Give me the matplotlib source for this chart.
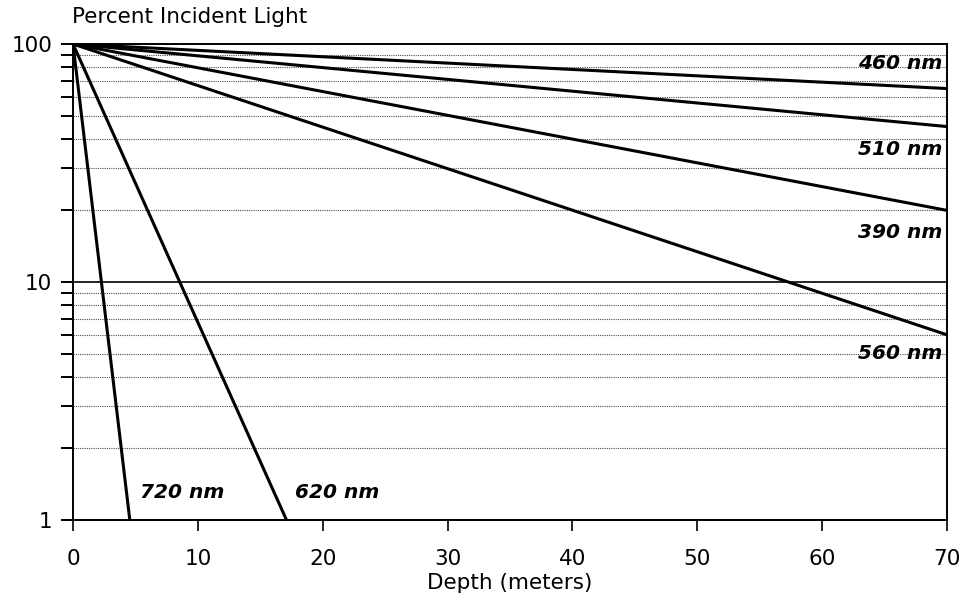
import numpy as np
import matplotlib.pyplot as plt
from matplotlib.ticker import FixedLocator, NullFormatter

# Light attenuation with depth
wavelengths = ["460 nm", "510 nm", "390 nm", "560 nm", "620 nm", "720 nm"]
end_depth = [70, 70, 70, 70, 17.1, 4.55]       # meters
end_percent = [65, 45, 20, 6.0, 1, 1]          # percent incident light
start_depth = 0
start_percent = 100

# label placement (depth, percent, horizontal alignment)
label_pos = [(69.6, 83, "right"), (69.6, 36, "right"), (69.6, 16.1, "right"),
             (69.6, 5.0, "right"), (17.8, 1.31, "left"), (5.4, 1.31, "left")]

xticks = [0, 10, 20, 30, 40, 50, 60, 70]
yticks = [1, 10, 100]

plt.rcParams['font.family'] = ['DejaVu Sans']

fig = plt.figure(figsize=(9.67, 6.03), dpi=100)
ax = fig.add_axes([0.0755, 0.1376, 0.9038, 0.7894])

ax.set_yscale("log")
ax.set_xlim(0, 70)
ax.set_ylim(1, 100)

# grid: dotted at minor decades, solid at 10
minors = [m * d for d in (1, 10) for m in range(2, 10)]
for v in minors:
    ax.axhline(v, color="0.3", lw=0.8, ls=(0, (1, 1)), zorder=1)
ax.axhline(10, color="black", lw=1.2, zorder=1)

for name, xe, ye in zip(wavelengths, end_depth, end_percent):
    ax.plot([start_depth, xe], [start_percent, ye], color="black", lw=2.2,
            solid_capstyle="butt", zorder=3)

for name, (lx, ly, ha) in zip(wavelengths, label_pos):
    ax.text(lx, ly, name, ha=ha, va="center", fontsize=14.5,
            fontweight="bold", fontstyle="italic", zorder=4)

for s in ax.spines.values():
    s.set_linewidth(1.4)

ax.set_xticks(xticks)
ax.set_xticklabels([str(t) for t in xticks], fontsize=15.5)
ax.yaxis.set_major_locator(FixedLocator(yticks))
ax.set_yticklabels([str(t) for t in yticks], fontsize=15.5)
ax.yaxis.set_minor_locator(FixedLocator(minors))
ax.yaxis.set_minor_formatter(NullFormatter())
ax.tick_params(axis="x", direction="out", length=8, width=1.2, pad=13)
ax.tick_params(axis="y", which="both", direction="out", length=9, width=1.4, pad=6)

ax.set_xlabel("Depth (meters)", fontsize=15.5, labelpad=3)
fig.text(0.074, 0.972, "Percent Incident Light", fontsize=15.5, ha="left", va="center")

fig.savefig("out.png", dpi=100)
